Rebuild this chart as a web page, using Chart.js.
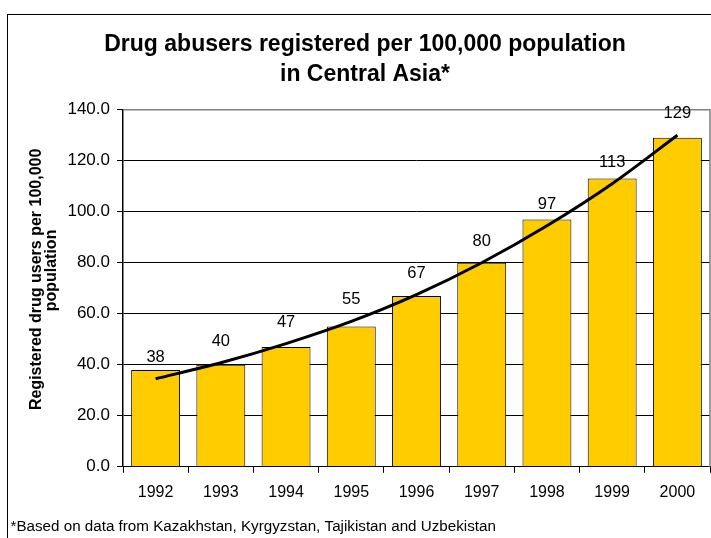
<!DOCTYPE html>
<html>
<head>
<meta charset="utf-8">
<script src="https://cdn.jsdelivr.net/npm/chart.js@4/dist/chart.umd.min.js"></script>
<style>
  html, body { margin: 0; padding: 0; background: #fff; overflow: hidden; }
  #frame {
    position: absolute; left: 7px; top: 14px;
    width: 750px; height: 530px;
    border: 1.5px solid #000; box-sizing: border-box;
  }
</style>
</head>
<body>
<div id="frame"><canvas id="drugs"></canvas></div>
<script>
const years = ['1992', '1993', '1994', '1995', '1996', '1997', '1998', '1999', '2000'];
const abusers = [38, 40, 47, 55, 67, 80, 97, 113, 129];
const trend = [34.5, 40.8, 48.3, 57, 67.5, 80, 94.5, 111, 130];
const yTicks = [0, 20, 40, 60, 80, 100, 120, 140];
const footnote = '*Based on data from Kazakhstan, Kyrgyzstan, Tajikistan and Uzbekistan';

const FONT = "'Liberation Sans', Arial, sans-serif";

// gray frame on top/right of the plot, value labels above the bars, footnote
const plotExtras = {
  id: 'plotExtras',
  beforeDatasetsDraw(chart) {
    const { ctx, chartArea: a } = chart;
    ctx.save();
    ctx.strokeStyle = '#808080';
    ctx.lineWidth = 1.5;
    ctx.beginPath();
    ctx.moveTo(a.left, a.top);
    ctx.lineTo(a.right, a.top);
    ctx.lineTo(a.right, a.bottom);
    ctx.stroke();
    ctx.restore();
  },
  afterDatasetsDraw(chart) {
    const ctx = chart.ctx;
    const meta = chart.getDatasetMeta(0);
    ctx.save();
    ctx.font = '16.5px ' + FONT;
    ctx.fillStyle = '#000';
    ctx.textAlign = 'center';
    ctx.textBaseline = 'alphabetic';
    meta.data.forEach((bar, i) => {
      ctx.fillText(String(abusers[i]), bar.x, bar.y - 17);
    });
    ctx.restore();
  },
  afterDraw(chart) {
    const ctx = chart.ctx;
    ctx.save();
    ctx.font = '15.2px ' + FONT;
    ctx.fillStyle = '#000';
    ctx.textAlign = 'left';
    ctx.textBaseline = 'middle';
    ctx.fillText(footnote, 2.5, chart.height - 16);
    ctx.restore();
  }
};

new Chart(document.getElementById('drugs').getContext('2d'), {
  data: {
    labels: years,
    datasets: [
      {
        type: 'line',
        data: trend,
        borderColor: '#000',
        borderWidth: 3,
        pointRadius: 0,
        tension: 0.3,
        order: 0
      },
      {
        type: 'bar',
        data: abusers,
        backgroundColor: '#FFCC00',
        borderColor: '#000',
        borderWidth: 1,
        barPercentage: 0.75,
        categoryPercentage: 1,
        order: 1
      }
    ]
  },
  plugins: [plotExtras],
  options: {
    responsive: true,
    maintainAspectRatio: false,
    animation: false,
    layout: { padding: { left: 12, right: 46, top: 14, bottom: 31 } },
    plugins: {
      legend: { display: false },
      tooltip: { enabled: false },
      title: {
        display: true,
        text: ['Drug abusers registered per 100,000 population', 'in Central Asia*'],
        color: '#000',
        font: { family: FONT, size: 23, weight: 'bold', lineHeight: 1.32 },
        padding: { top: 0, bottom: 20 }
      }
    },
    scales: {
      x: {
        grid: { drawOnChartArea: false, drawTicks: true, tickLength: 6, color: '#000', offset: true },
        border: { color: '#000', width: 1 },
        ticks: { color: '#000', font: { family: FONT, size: 16 }, padding: 10 }
      },
      y: {
        min: 0,
        max: 140,
        afterBuildTicks(scale) { scale.ticks = yTicks.map(v => ({ value: v })); },
        afterFit(scale) { scale.width = 103; },
        grid: {
          color: ctx => (ctx.tick && ctx.tick.value === 140 ? 'rgba(0,0,0,0)' : '#000'),
          tickColor: '#000',
          tickLength: 6,
          lineWidth: 1
        },
        border: { color: '#000', width: 1.5 },
        ticks: {
          color: '#000',
          font: { family: FONT, size: 17 },
          padding: 7,
          callback: v => Number(v).toFixed(1)
        },
        title: {
          display: true,
          text: ['    Registered drug users per 100,000', '        population'],
          color: '#000',
          font: { family: FONT, size: 16, weight: 'bold', lineHeight: 0.93 },
          padding: { top: 9, bottom: 0 }
        }
      }
    }
  }
});
</script>
</body>
</html>
